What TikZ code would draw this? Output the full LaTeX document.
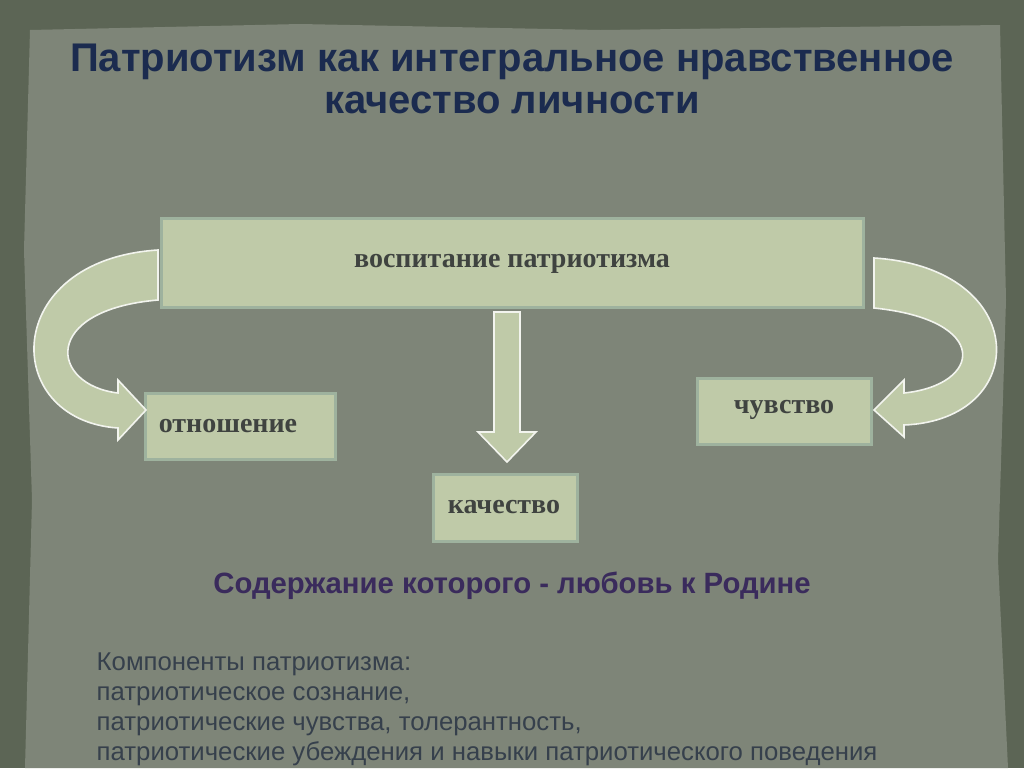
\documentclass[tikz,border=0pt]{standalone}
\usepackage{fontspec}
\setmainfont{Liberation Serif}
\newfontfamily\sans{Liberation Sans}
\begin{document}
\begin{tikzpicture}[x=0.75pt,y=-0.75pt,
  box/.style={draw=white!80!green!40!gray,line width=2pt,fill=boxc,inner sep=0pt},
  boxtxt/.style={font=\bfseries\fontsize{21}{24}\selectfont,text=txtc},
  arr/.style={fill=boxc,draw=white!80!boxc,line width=1.2pt}]
\definecolor{outerc}{HTML}{5C6555}
\definecolor{paperc}{HTML}{7E8578}
\definecolor{boxc}{HTML}{BFCAA8}
\definecolor{txtc}{HTML}{3F4340}
\definecolor{titc}{HTML}{1B2B4F}
\definecolor{subc}{HTML}{3A2B5C}
\definecolor{compc}{HTML}{36404C}
\useasboundingbox (0,0) rectangle (1024,768);
\fill[outerc] (0,0) rectangle (1024,768);
\fill[paperc] (30,30) -- (300,24) -- (600,30) -- (1000,25) -- (1006,300) -- (998,560) -- (1008,768) -- (25,768) -- (32,500) -- (24,250) -- cycle;
\node[font=\sans\bfseries\fontsize{30}{31.5}\selectfont,text=titc,align=center] (title) at (512,79) {Патриотизм как интегральное нравственное\\качество личности};
\node[box,minimum width=702*0.75pt,minimum height=89*0.75pt,anchor=north west] (main) at (160,217) {};
\node[boxtxt] at (512,264) {воспитание патриотизма};
\node[box,minimum width=190*0.75pt,minimum height=66*0.75pt,anchor=north west] (rel) at (144,392) {};
\node[boxtxt] at (228,426) {отношение};
\node[box,minimum width=174*0.75pt,minimum height=66*0.75pt,anchor=north west] (feel) at (696,377) {};
\node[boxtxt] at (784,410) {чувство};
\node[box,minimum width=144*0.75pt,minimum height=67*0.75pt,anchor=north west] (qual) at (432,473) {};
\node[boxtxt] at (504,507) {качество};
\draw[arr] (494,312) -- (520,312) -- (520,432) -- (536,432) -- (507,462) -- (478,432) -- (494,432) -- cycle;
\draw[arr] (158,250) .. controls (0,260) and (0,420) .. (118,428) -- (118,440) -- (146,410) -- (118,380) -- (118,393) .. controls (50,385) and (40,310) .. (158,300) -- cycle;
\begin{scope}[xshift=1032*0.75pt,xscale=-1]
\draw[arr] (158,258) .. controls (0,268) and (0,420) .. (128,425) -- (128,437) -- (158,410) -- (128,380) -- (128,393) .. controls (50,385) and (40,320) .. (158,308) -- cycle;
\end{scope}
\node[font=\sans\bfseries\fontsize{22}{26}\selectfont,text=subc] (sub) at (512,586) {Содержание которого - любовь к Родине};
\node[font=\sans\fontsize{19.3}{22.5}\selectfont,text=compc,align=left,anchor=north west] (comp) at (92,648) {Компоненты патриотизма:\\патриотическое сознание,\\патриотические чувства, толерантность,\\патриотические убеждения и навыки патриотического поведения};
\end{tikzpicture}
\end{document}
